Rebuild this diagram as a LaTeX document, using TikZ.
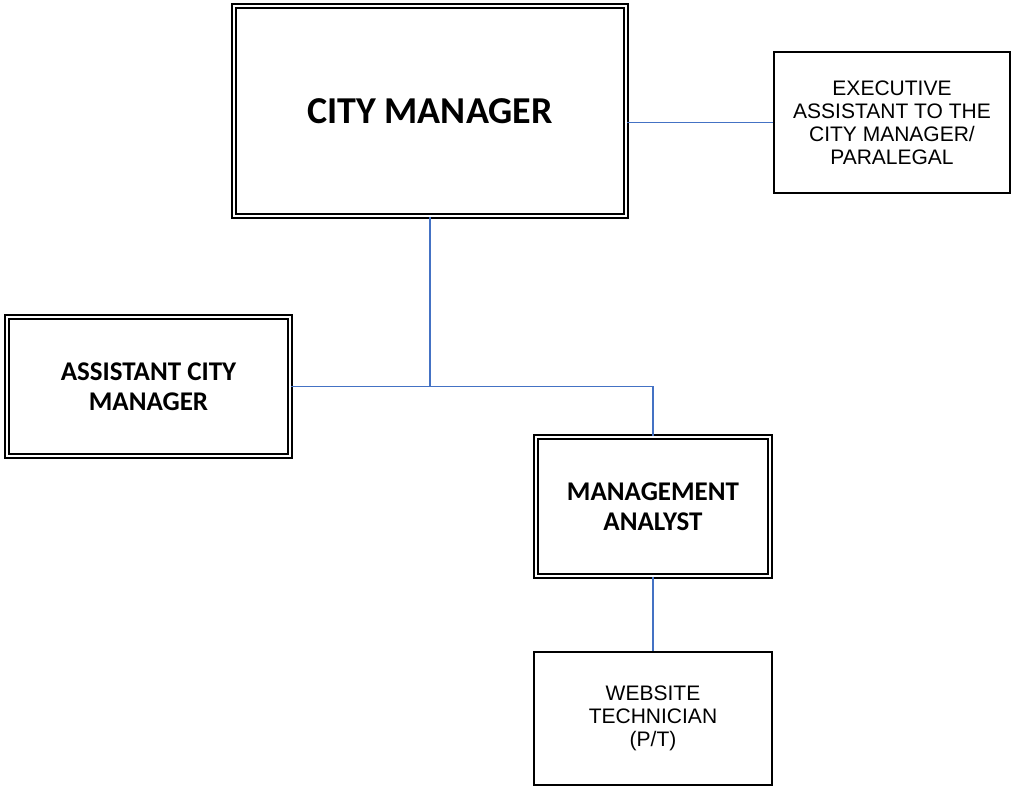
\documentclass[tikz,border=0pt]{standalone}
\usepackage{fontspec}
\setmainfont{Liberation Sans}
\newfontfamily\calibri{Carlito}
\usepackage{tikz}
\definecolor{linkblue}{RGB}{68,114,196}
\begin{document}
\begin{tikzpicture}[x=0.5pt, y=-0.5pt,
	dbox/.style={draw, line width=0.9pt, double, double distance=1.1pt, align=center, inner sep=0pt},
	sbox/.style={draw, line width=0.9pt, align=center, inner sep=0pt, font=\fontsize{10.5}{11.5}\selectfont},
	bigfont/.style={font=\calibri\bfseries\fontsize{19}{22}\selectfont},
	boldfont/.style={font=\calibri\bfseries\fontsize{13.5}{15}\selectfont},
	link/.style={draw=linkblue, line width=0.75pt}]
	\useasboundingbox (0,0) rectangle (1013,795);
		\node[dbox, bigfont, minimum width=196pt, minimum height=105pt] (cm) at (430,111) {CITY MANAGER};
		\node[sbox, minimum width=118pt, minimum height=70.5pt] (ea) at (892,122.5) {EXECUTIVE\\ASSISTANT TO THE\\CITY MANAGER/\\PARALEGAL};
		\node[dbox, boldfont, minimum width=141.5pt, minimum height=69.5pt] (acm) at (148.5,386.5) {ASSISTANT CITY\\MANAGER};
		\node[dbox, boldfont, minimum width=117pt, minimum height=69.5pt] (ma) at (653,506.5) {MANAGEMENT\\ANALYST};
		\node[sbox, minimum width=119pt, minimum height=66.5pt] (wt) at (653,718.5) {WEBSITE\\TECHNICIAN\\(P/T)};
		\draw[link] (ea.west -| cm.east) -- (ea.west);
		\draw[link] (cm.south) |- (acm.east);
		\draw[link] (cm.south |- acm.east) -| (ma.north);
		\draw[link] (ma.south) -- (wt.north);
\end{tikzpicture}
\end{document}
